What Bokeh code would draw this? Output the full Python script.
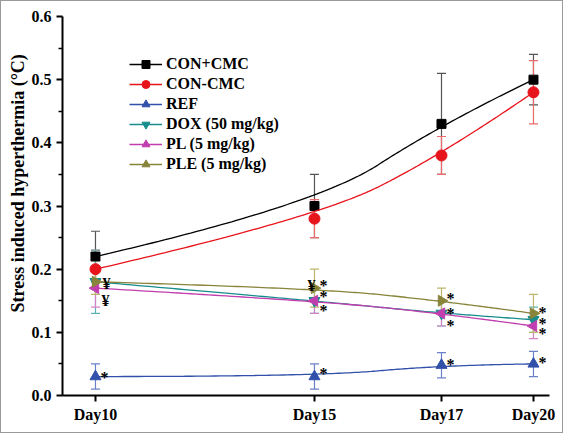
import numpy as np
from bokeh.plotting import figure
from bokeh.models import (Range1d, FixedTicker, Whisker, TeeHead, ColumnDataSource, Legend,
                          LegendItem, PrintfTickFormatter, Title)
from bokeh.core.properties import value
from bokeh.embed import file_html
from bokeh.resources import INLINE

# ---- data ----
day_labels = ["Day10", "Day15", "Day17", "Day20"]
day_pos = [0.0, 5.0, 7.9, 10.0]   # horizontal placement of the days on the original axis

series_names = ["CON+CMC", "CON-CMC", "REF", "DOX (50 mg/kg)", "PL (5 mg/kg)", "PLE (5 mg/kg)"]
con_plus = [0.22, 0.30, 0.43, 0.50]
con_plus_err = [0.04, 0.05, 0.08, 0.04]
con_minus = [0.20, 0.28, 0.38, 0.48]
con_minus_err = [0.03, 0.03, 0.03, 0.05]
ref = [0.03, 0.03, 0.048, 0.05]
ref_err = [0.02, 0.02, 0.02, 0.02]
dox = [0.18, 0.15, 0.13, 0.12]
dox_err = [0.05, 0.02, 0.02, 0.02]
pl = [0.17, 0.15, 0.13, 0.11]
pl_err = [0.03, 0.02, 0.02, 0.02]
ple = [0.18, 0.17, 0.15, 0.13]
ple_err = [0.02, 0.03, 0.02, 0.03]

y_title = "Stress induced hyperthermia (°C)"

# significance marks: (day index, series index, symbol)
sig_day = [0, 0, 0, 1, 1, 1, 1, 1, 2, 2, 2, 2, 3, 3, 3, 3]
sig_series = [3, 4, 2, 5, 5, 3, 4, 2, 5, 3, 4, 2, 5, 3, 4, 2]
sig_text = ["¥", "¥", "*", "¥", "*", "*", "*", "*", "*", "*", "*", "*", "*", "*", "*", "*"]

# ---- style ----
colors = ["#000000", "#e8141c", "#3050aa", "#178c8c", "#c03eae", "#88843a"]
err_colors = ["#555555", "#ee6a6a", "#6a80c8", "#5fb3b3", "#d482c8", "#bdb66a"]
markers = ["square", "circle", "triangle", "inverted_triangle", "triangle", "triangle"]
angles = [0, 0, 0, 0, np.pi / 2, -np.pi / 2]
sizes = [9, 11, 11, 11, 11, 11]
sig_dx = [11, 10, 9, -3, 9, 9, 9, 9, 9, 9, 9, 9, 9, 9, 9, 9]
sig_dy = [2, 12, 1, -3, -3, -4, 10, -3, -2, 0, 12, -1, -1, 4, 7, -1]

values = [con_plus, con_minus, ref, dox, pl, ple]
errors = [con_plus_err, con_minus_err, ref_err, dox_err, pl_err, ple_err]

FONT = "Liberation Serif"


def bspline2(xs, ys, n=60):
    """Clamped quadratic B-spline using the data points as control points."""
    P = np.column_stack([np.asarray(xs, float), np.asarray(ys, float)])
    k = len(P)
    segs = []
    start = P[0]
    for i in range(1, k - 1):
        end = P[-1] if i == k - 2 else (P[i] + P[i + 1]) / 2
        segs.append((start, P[i], end))
        start = end
    ox, oy = [], []
    t = np.linspace(0, 1, n)
    for a, b, c in segs:
        ox.extend((1 - t) ** 2 * a[0] + 2 * (1 - t) * t * b[0] + t ** 2 * c[0])
        oy.extend((1 - t) ** 2 * a[1] + 2 * (1 - t) * t * b[1] + t ** 2 * c[1])
    return ox, oy


p = figure(width=563, height=433, output_backend="svg", toolbar_location=None,
           x_range=Range1d(-0.753, 10.366), y_range=Range1d(0, 0.6),
           min_border_left=61, min_border_right=15, min_border_top=15, min_border_bottom=39,
           styles={"border": "1px solid #9a9a9a"})
p.outline_line_color = None
p.xgrid.visible = False
p.ygrid.visible = False
p.background_fill_color = "white"
p.border_fill_color = "white"

items = []
for k in range(len(series_names)):
    ys = values[k]
    es = errors[k]
    src = ColumnDataSource(dict(x=day_pos, y=ys,
                                lo=[a - b for a, b in zip(ys, es)],
                                hi=[a + b for a, b in zip(ys, es)]))
    w = Whisker(base="x", lower="lo", upper="hi", source=src,
                line_color=err_colors[k], line_width=1.2,
                upper_head=TeeHead(size=9, line_color=err_colors[k], line_width=1.2),
                lower_head=TeeHead(size=9, line_color=err_colors[k], line_width=1.2))
    p.add_layout(w)
    sx, sy = bspline2(day_pos, ys)
    lr = p.line(sx, sy, line_color=colors[k], line_width=1.3)
    sr = p.scatter("x", "y", source=src, marker=markers[k], size=sizes[k], angle=angles[k],
                   fill_color=colors[k], line_color=colors[k])
    items.append(LegendItem(label=series_names[k], renderers=[lr, sr]))

# significance marks
tx = [day_pos[d] for d in sig_day]
ty = [values[s][d] for s, d in zip(sig_series, sig_day)]
p.text(x=tx, y=ty, text=sig_text, x_offset=sig_dx, y_offset=sig_dy,
       text_align="center", text_baseline="middle",
       text_font=value(FONT), text_font_style="bold", text_font_size="16px", text_color="#000000")

legend = Legend(items=items, location=(67, 221))
legend.border_line_color = None
legend.background_fill_alpha = 0
legend.padding = 0
legend.spacing = 0
legend.margin = 0
legend.label_height = 20
legend.glyph_height = 20
legend.glyph_width = 33
legend.label_standoff = 4
legend.label_text_font = FONT
legend.label_text_font_style = "bold"
legend.label_text_font_size = "16px"
legend.label_text_color = "#000000"
p.add_layout(legend)

# y-axis title, placed a little above the axis centre as in the original
ytitle = Title(text=y_title, align="left", offset=83, standoff=2,
               text_font=FONT, text_font_style="bold", text_font_size="18px",
               text_color="#000000")
p.add_layout(ytitle, "left")

# axes
p.xaxis.ticker = FixedTicker(ticks=day_pos)
p.xaxis.major_label_overrides = {pos: lab for pos, lab in zip(day_pos, day_labels)}
p.yaxis.ticker = FixedTicker(ticks=[0.0, 0.1, 0.2, 0.3, 0.4, 0.5, 0.6],
                             minor_ticks=[0.05, 0.15, 0.25, 0.35, 0.45, 0.55])
p.yaxis.formatter = PrintfTickFormatter(format="%.1f")
for ax in (p.xaxis[0], p.yaxis[0]):
    ax.axis_line_width = 2
    ax.axis_line_color = "#000000"
    ax.major_tick_line_width = 2
    ax.major_tick_line_color = "#000000"
    ax.minor_tick_line_width = 1.5
    ax.minor_tick_line_color = "#000000"
    ax.major_tick_in = 0
    ax.major_tick_out = 6
    ax.minor_tick_in = 0
    ax.minor_tick_out = 4
    ax.major_label_text_font = FONT
    ax.major_label_text_font_style = "bold"
    ax.major_label_text_font_size = "16px"
    ax.major_label_text_color = "#000000"
p.yaxis.major_label_standoff = 5
p.xaxis.major_label_standoff = 4

open("out.html", "w").write(file_html(p, INLINE))
